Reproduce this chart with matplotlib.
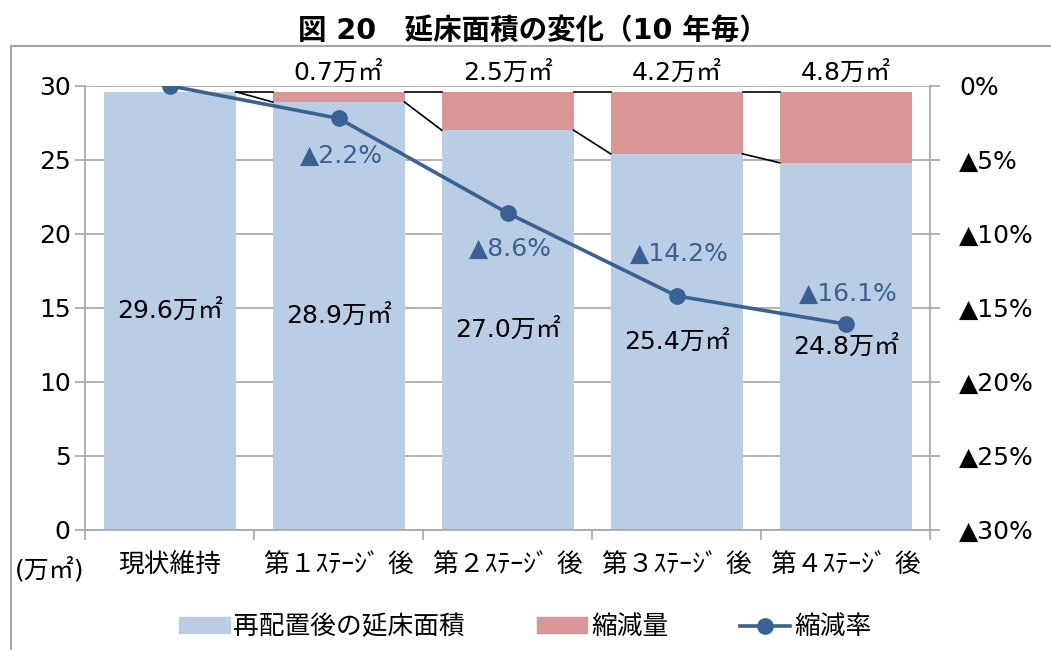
import matplotlib
matplotlib.use("Agg")
import matplotlib.pyplot as plt
from matplotlib.lines import Line2D
from matplotlib.patches import Patch

# DejaVu gives the wide digits, Noto CJK fills in the Japanese
plt.rcParams['font.family'] = ['DejaVu Sans', 'Noto Sans CJK JP']

# data
categories = ["現状維持", "第１ｽﾃｰｼﾞ 後", "第２ｽﾃｰｼﾞ 後", "第３ｽﾃｰｼﾞ 後", "第４ｽﾃｰｼﾞ 後"]
area_after = [29.6, 28.9, 27.0, 25.4, 24.8]
reduction = [0.0, 0.7, 2.6, 4.2, 4.8]
reduction_rate = [0.0, -2.2, -8.6, -14.2, -16.1]
area_labels = ["29.6万㎡", "28.9万㎡", "27.0万㎡", "25.4万㎡", "24.8万㎡"]
reduction_labels = [None, "0.7万㎡", "2.5万㎡", "4.2万㎡", "4.8万㎡"]
rate_labels = [None, "▲2.2%", "▲8.6%", "▲14.2%", "▲16.1%"]
left_ticks = [0, 5, 10, 15, 20, 25, 30]
right_ticks = [-30, -25, -20, -15, -10, -5, 0]
right_ticklabels = ["▲30%", "▲25%", "▲20%", "▲15%", "▲10%", "▲5%", "0%"]

BLUE_BAR = "#B9CDE5"
PINK_BAR = "#D99694"
LINE_COL = "#3A6193"
GRID = "#A6A6A6"

fig = plt.figure(figsize=(10.51, 6.5), dpi=100)
ax = fig.add_axes([0.081, 0.185, 0.804, 0.683])

x = list(range(len(categories)))
w = 0.78
ax.bar(x, area_after, width=w, color=BLUE_BAR, zorder=2)
ax.bar(x, reduction, width=w, bottom=area_after, color=PINK_BAR, zorder=2)

# series lines between bars
totals = [a + r for a, r in zip(area_after, reduction)]
for i in range(len(x) - 1):
    x0, x1 = x[i] + w / 2, x[i + 1] - w / 2
    ax.plot([x0, x1], [area_after[i], area_after[i + 1]], color="black", lw=1.2, zorder=3)
    ax.plot([x0, x1], [totals[i], totals[i + 1]], color="black", lw=1.2, zorder=3)

ax.set_xlim(-0.5, len(x) - 0.5)
ax.set_ylim(0, 30)
ax.set_yticks(left_ticks)
ax.yaxis.grid(True, color=GRID, lw=1.2, zorder=0)
ax.set_axisbelow(True)
for s in ["top", "right"]:
    ax.spines[s].set_visible(False)
ax.spines["left"].set_color(GRID)
ax.spines["bottom"].set_color(GRID)
ax.spines["left"].set_linewidth(1.2)
ax.spines["bottom"].set_linewidth(1.2)
ax.tick_params(axis="y", colors=GRID, labelcolor="black", labelsize=18, length=7, width=1.2)
ax.set_xticks([i - 0.5 for i in range(len(x) + 1)], minor=False)
ax.set_xticklabels([])
ax.set_xticks(x, minor=True)
ax.set_xticklabels(categories, minor=True, fontsize=18.5)
ax.tick_params(axis="x", which="major", colors=GRID, length=7, width=1.2)
ax.tick_params(axis="x", which="minor", length=0, pad=16)

# labels in bars
for i, (a, lab) in enumerate(zip(area_after, area_labels)):
    ax.text(x[i], a / 2, lab, ha="center", va="center", fontsize=18, zorder=4)
for i, lab in enumerate(reduction_labels):
    if lab:
        ax.annotate(lab, xy=(x[i], totals[i]), xytext=(0, 5), textcoords="offset points",
                    ha="center", va="bottom", fontsize=18, annotation_clip=False)

fig.text(0.014, 0.123, "(万㎡)", fontsize=18, va="center", ha="left")

# rate line on right axis
ax2 = ax.twinx()
ax2.plot(x, reduction_rate, color=LINE_COL, lw=2.6, marker="o", markersize=11, zorder=5)
ax2.set_ylim(-30, 0)
ax2.set_yticks(right_ticks)
ax2.set_yticklabels(right_ticklabels)
for s in ["top", "left", "bottom"]:
    ax2.spines[s].set_visible(False)
ax2.spines["right"].set_color(GRID)
ax2.spines["right"].set_linewidth(1.2)
ax2.tick_params(axis="y", colors=GRID, labelcolor="black", labelsize=18, length=7,
                width=1.2, pad=14)

rate_offsets = [0, -27, -26, 30, 22]
for i, lab in enumerate(rate_labels):
    if lab:
        ax2.annotate(lab, xy=(x[i], reduction_rate[i]), xytext=(2, rate_offsets[i]),
                     textcoords="offset points", ha="center", va="center",
                     fontsize=18, color=LINE_COL)

# title and chart frame
fig.text(0.507, 0.953, "図 20　延床面積の変化（10 年毎）", ha="center", va="center",
         fontsize=20.5, fontweight="bold")
fig.add_artist(Line2D([0.0105, 1.0], [0.929, 0.929], color=GRID, lw=1.5))
fig.add_artist(Line2D([0.0105, 0.0105], [0.0, 0.929], color=GRID, lw=1.5))

handles = [Patch(color=BLUE_BAR), Patch(color=PINK_BAR),
           Line2D([], [], color=LINE_COL, lw=2.6, marker="o", markersize=11)]
fig.legend(handles, ["再配置後の延床面積", "縮減量", "縮減率"], loc="center",
           bbox_to_anchor=(0.5, 0.035), ncol=3, frameon=False, fontsize=18.5,
           handlelength=1.95, handleheight=0.55, columnspacing=2.8, handletextpad=0.15)

fig.savefig("out.png", dpi=100)
